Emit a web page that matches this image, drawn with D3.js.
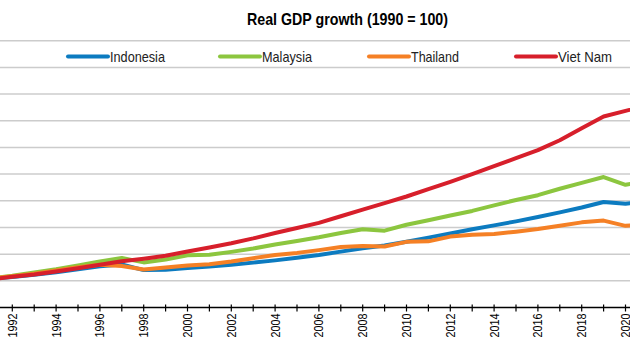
<!DOCTYPE html>
<html>
<head>
<meta charset="utf-8">
<script src="https://cdn.jsdelivr.net/npm/d3@7"></script>
<style>
  body { margin: 0; background: #fff; }
  svg { display: block; font-family: "Liberation Sans Narrow", "Arial Narrow", "Liberation Sans", Arial, sans-serif; }
</style>
</head>
<body>
<svg id="chart" width="630" height="354"></svg>
<script>
// Data (index, 1990 = 100)
const years = d3.range(1990, 2022);
const indonesia = [100, 106.9, 114.6, 123.0, 132.2, 143.0, 154.2, 161.4, 140.3, 141.4, 148.3, 153.6, 160.5, 168.2, 176.6, 186.7,
  197.0, 209.4, 222.0, 232.2, 246.6, 261.9, 277.6, 293.2, 307.8, 322.9, 339.1, 356.4, 374.9, 395.5, 388.5, 400.0];
const malaysia = [100, 109.5, 119.2, 131.0, 143.1, 157.1, 172.8, 185.4, 169.0, 180.0, 196.0, 197.5, 208.5, 221.0, 236.0, 249.0,
  263.0, 279.0, 293.0, 288.0, 310.0, 327.0, 345.0, 362.0, 383.0, 403.0, 421.0, 445.0, 467.0, 489.0, 460.0, 474.0];
const thailand = [100, 108.5, 117.3, 127.0, 138.4, 151.2, 160.1, 155.6, 142.5, 149.5, 157.0, 162.5, 172.4, 184.8, 196.5, 204.7,
  215.0, 226.6, 230.4, 228.8, 246.0, 248.0, 265.8, 273.0, 275.7, 284.3, 293.9, 306.3, 319.1, 325.8, 306.0, 310.5];
const vietnam = [100, 106.0, 115.0, 124.0, 135.0, 147.0, 160.0, 173.0, 183.0, 194.0, 210.0, 225.0, 241.0, 259.0, 279.0, 298.0,
  317.0, 342.0, 367.0, 391.0, 416.0, 444.0, 471.0, 500.0, 530.0, 560.0, 590.0, 627.0, 672.0, 716.0, 737.0, 757.0];

const seriesNames = ["Indonesia", "Malaysia", "Thailand", "Viet Nam"];
const seriesValues = [indonesia, malaysia, thailand, vietnam];
const seriesColors = ["#0c7bc0", "#8cc63f", "#f58025", "#d71f2b"];

const gridValues = d3.range(100, 1001, 100);
const labelYears = d3.range(1992, 2022, 2);

const svg = d3.select("#chart");
const W = 630;

const x = d3.scaleLinear().domain([1992, 2020]).range([12.3, 625.5]);
const y = d3.scaleLinear().domain([0, 1000]).range([307.5, 40.7]);

// title (font is wider than the narrow face of the original, so squeeze it)
svg.append("text")
  .attr("x", 247).attr("y", 25)
  .attr("font-size", 16.5).attr("font-weight", "bold")
  .attr("fill", "#000")
  .attr("textLength", 201).attr("lengthAdjust", "spacingAndGlyphs")
  .text("Real GDP growth (1990 = 100)");

// grid
svg.append("g").selectAll("line")
  .data(gridValues).join("line")
  .attr("x1", 0).attr("x2", W)
  .attr("y1", d => y(d)).attr("y2", d => y(d))
  .attr("stroke", "#cccccc").attr("stroke-width", 1.5);

// x axis
const axis = svg.append("g").attr("transform", `translate(0,${y(0)})`);
axis.append("line").attr("x1", 0).attr("x2", W).attr("stroke", "#000").attr("stroke-width", 1.5);
axis.selectAll(".tick").data(years).join("line")
  .attr("class", "tick")
  .attr("x1", d => x(d)).attr("x2", d => x(d))
  .attr("y1", -3).attr("y2", 4)
  .attr("stroke", "#000").attr("stroke-width", 1.2);
axis.selectAll(".lbl").data(labelYears).join("text")
  .attr("class", "lbl")
  .attr("transform", d => `translate(${x(d)},6) rotate(-90)`)
  .attr("text-anchor", "end").attr("dy", "0.35em")
  .attr("font-size", 13).attr("fill", "#000")
  .attr("textLength", 24).attr("lengthAdjust", "spacingAndGlyphs")
  .text(d => d);

// lines
const line = d3.line().x((d, i) => x(years[i])).y(d => y(d));
svg.append("g").selectAll("path")
  .data(seriesValues).join("path")
  .attr("d", line)
  .attr("fill", "none")
  .attr("stroke", (d, i) => seriesColors[i])
  .attr("stroke-width", 4)
  .attr("stroke-linejoin", "round");

// legend
const legendX = [68, 220, 369, 516];
const legendW = [55, 50, 48, 54];
const leg = svg.append("g").selectAll("g")
  .data(seriesNames).join("g")
  .attr("transform", (d, i) => `translate(${legendX[i]},56.5)`);
leg.append("line")
  .attr("x1", 0).attr("x2", 40)
  .attr("stroke", (d, i) => seriesColors[i])
  .attr("stroke-width", 4).attr("stroke-linecap", "round");
leg.append("text")
  .attr("x", 42).attr("dy", "0.35em")
  .attr("font-size", 15).attr("fill", "#222")
  .attr("textLength", (d, i) => legendW[i]).attr("lengthAdjust", "spacingAndGlyphs")
  .text(d => d);
</script>
</body>
</html>
